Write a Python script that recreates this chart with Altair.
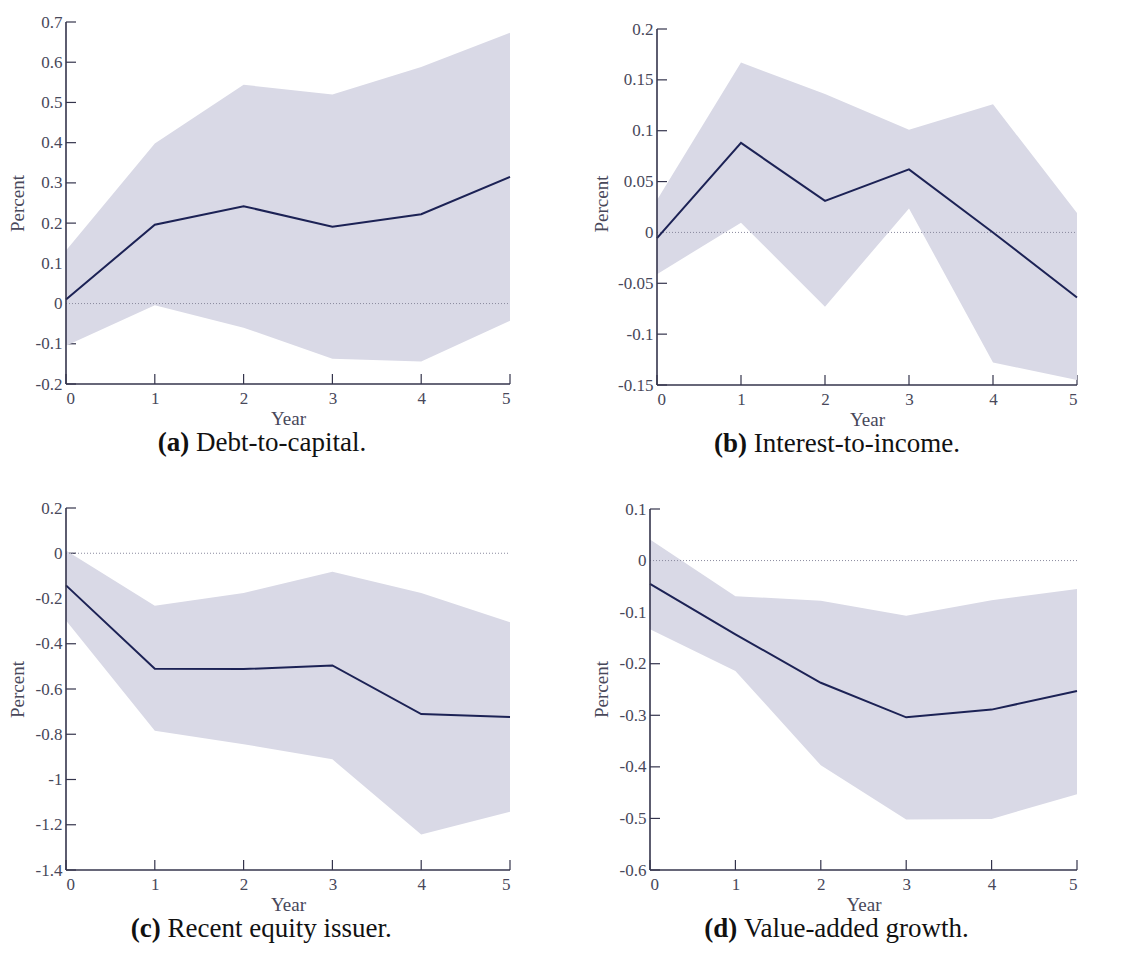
import altair as alt
import pandas as pd

years = [0, 1, 2, 3, 4, 5]

a_mid = [0.01, 0.196, 0.242, 0.191, 0.222, 0.315]
a_hi = [0.132, 0.398, 0.544, 0.52, 0.588, 0.673]
a_lo = [-0.105, -0.004, -0.06, -0.137, -0.144, -0.043]
a_ticks = [-0.2, -0.1, 0.0, 0.1, 0.2, 0.3, 0.4, 0.5, 0.6, 0.7]

b_mid = [-0.0056, 0.088, 0.031, 0.062, 0.0, -0.064]
b_hi = [0.032, 0.167, 0.136, 0.101, 0.126, 0.019]
b_lo = [-0.041, 0.0095, -0.073, 0.0236, -0.128, -0.145]
b_ticks = [-0.15, -0.1, -0.05, 0.0, 0.05, 0.1, 0.15, 0.2]

c_mid = [-0.142, -0.51, -0.512, -0.496, -0.711, -0.724]
c_hi = [0.012, -0.232, -0.176, -0.082, -0.176, -0.305]
c_lo = [-0.297, -0.784, -0.844, -0.911, -1.243, -1.143]
c_ticks = [-1.4, -1.2, -1.0, -0.8, -0.6, -0.4, -0.2, 0.0, 0.2]

d_mid = [-0.045, -0.143, -0.237, -0.304, -0.289, -0.253]
d_hi = [0.041, -0.069, -0.078, -0.107, -0.077, -0.055]
d_lo = [-0.133, -0.214, -0.397, -0.502, -0.501, -0.453]
d_ticks = [-0.6, -0.5, -0.4, -0.3, -0.2, -0.1, 0.0, 0.1]

captions_bold = ["(a)", "(b)", "(c)", "(d)"]
captions_rest = ["Debt-to-capital.", "Interest-to-income.", "Recent equity issuer.", "Value-added growth."]

BAND = "#d9d9e6"
LINE = "#1c2255"
AXIS = "#34344c"
LABEL = "#48485a"
ZERO = "#8a8a9e"
FONT = "Liberation Serif"
CAP_SIZE = 27

TR = {' ': 250, '(': 333, ')': 333, '.': 250, '-': 333, 'a': 444, 'b': 500, 'c': 444,
      'd': 500, 'e': 444, 'f': 333, 'g': 500, 'h': 500, 'i': 278, 'l': 278, 'm': 778,
      'n': 500, 'o': 500, 'p': 500, 'q': 500, 'r': 333, 's': 389, 't': 278, 'u': 500,
      'w': 722, 'y': 500, 'D': 722, 'I': 333, 'R': 667, 'V': 722}
TB = {'(': 333, ')': 333, 'a': 500, 'b': 556, 'c': 444, 'd': 556, ' ': 250}


def tw(s, table, size):
    return sum(table.get(ch, 500) for ch in s) * size / 1000.0


def panel(mid, hi, lo, ticks, ydom, w, h, cap_bold, cap_rest, cap_cx, ext):
    df = pd.DataFrame({"year": years, "mid": mid, "hi": hi, "lo": lo})
    ty = pd.DataFrame({"v": ticks})
    tx = pd.DataFrame({"v": years})
    xs = alt.Scale(domain=[0, 5], nice=False, zero=False)
    ys = alt.Scale(domain=ydom, nice=False, zero=False)

    yaxis = alt.Axis(values=ticks, domain=False, ticks=False, grid=False,
                     labelExpr="datum.value < 0 ? '-' + format(-datum.value, '~g') : format(datum.value, '~g')",
                     labelFont=FONT, labelFontSize=17, labelColor=LABEL, labelPadding=4,
                     minExtent=ext, maxExtent=ext,
                     title="Percent", titleFont=FONT, titleFontSize=19, titleFontWeight="normal",
                     titleColor=LABEL, titlePadding=4)
    xaxis = alt.Axis(values=years, format="d", domain=False, ticks=False, grid=False,
                     labelFont=FONT, labelFontSize=17, labelColor=LABEL, labelPadding=6,
                     title="Year", titleFont=FONT, titleFontSize=19, titleFontWeight="normal",
                     titleColor=LABEL, titlePadding=3)

    ytick = alt.Chart(ty).mark_rule(color=AXIS, strokeWidth=1.2).encode(
        y=alt.Y("v:Q", scale=ys, axis=yaxis), x=alt.value(0), x2=alt.value(10))
    xtick = alt.Chart(tx).mark_rule(color=AXIS, strokeWidth=1.2).encode(
        x=alt.X("v:Q", scale=xs, axis=xaxis), y=alt.value(h), y2=alt.value(h - 10))
    band = alt.Chart(df).mark_area(color=BAND, opacity=1).encode(
        x=alt.X("year:Q", scale=xs, axis=xaxis),
        y=alt.Y("lo:Q", scale=ys, axis=yaxis),
        y2="hi:Q")
    zero = alt.Chart(pd.DataFrame({"z": [0.0]})).mark_rule(
        color=ZERO, strokeWidth=1, strokeDash=[1, 2]).encode(
        y=alt.Y("z:Q", scale=ys, axis=yaxis), x=alt.value(0), x2=alt.value(w))
    line = alt.Chart(df).mark_line(color=LINE, strokeWidth=2).encode(
        x=alt.X("year:Q", scale=xs, axis=xaxis),
        y=alt.Y("mid:Q", scale=ys, axis=yaxis))
    ydom_rule = alt.Chart(pd.DataFrame({"a": [ticks[0]], "b": [ticks[-1]]})).mark_rule(
        color=AXIS, strokeWidth=1.6).encode(
        y=alt.Y("a:Q", scale=ys, axis=yaxis), y2="b:Q", x=alt.value(0))
    xdom_rule = alt.Chart(pd.DataFrame({"a": [0], "b": [5]})).mark_rule(
        color=AXIS, strokeWidth=1.6).encode(
        x=alt.X("a:Q", scale=xs, axis=xaxis), x2="b:Q", y=alt.value(h))

    wb = tw(cap_bold, TB, CAP_SIZE)
    wr = tw(" " + cap_rest, TR, CAP_SIZE)
    x0 = cap_cx - (wb + wr) / 2.0
    capb = alt.Chart(pd.DataFrame({"t": [cap_bold]})).mark_text(
        font=FONT, fontSize=CAP_SIZE, fontWeight="bold", color="#111111",
        align="left", baseline="alphabetic").encode(
        text="t:N", x=alt.value(x0), y=alt.value(h + 67))
    capr = alt.Chart(pd.DataFrame({"t": [cap_rest]})).mark_text(
        font=FONT, fontSize=CAP_SIZE, color="#111111",
        align="left", baseline="alphabetic").encode(
        text="t:N", x=alt.value(x0 + wb + tw(" ", TR, CAP_SIZE)), y=alt.value(h + 67))

    return alt.layer(ytick, xtick, band, zero, line, ydom_rule, xdom_rule, capb, capr).properties(
        width=w, height=h)


pa = panel(a_mid, a_hi, a_lo, a_ticks, [-0.2, 0.7], 444, 362,
           captions_bold[0], captions_rest[0], 196, 35)
pb = panel(b_mid, b_hi, b_lo, b_ticks, [-0.15, 0.2 + 0.35 * 7 / 356], 420, 363,
           captions_bold[1], captions_rest[1], 180, 42)
pc = panel(c_mid, c_hi, c_lo, c_ticks, [-1.4, 0.2], 444, 362,
           captions_bold[2], captions_rest[2], 196, 35)
pd_ = panel(d_mid, d_hi, d_lo, d_ticks, [-0.6, 0.1 + 0.7 * 1 / 361], 427, 362,
            captions_bold[3], captions_rest[3], 188, 35)

row1 = alt.hconcat(pa, pb, spacing=78)
row2 = alt.hconcat(pc, pd_, spacing=78)
chart = alt.vconcat(row1, row2, spacing=42).properties(
    padding={"left": 0, "top": 5, "right": 5, "bottom": 5},
    background="white"
).configure_view(stroke=None)

chart.save("out.html", embed_options={"renderer": "svg", "actions": False})
